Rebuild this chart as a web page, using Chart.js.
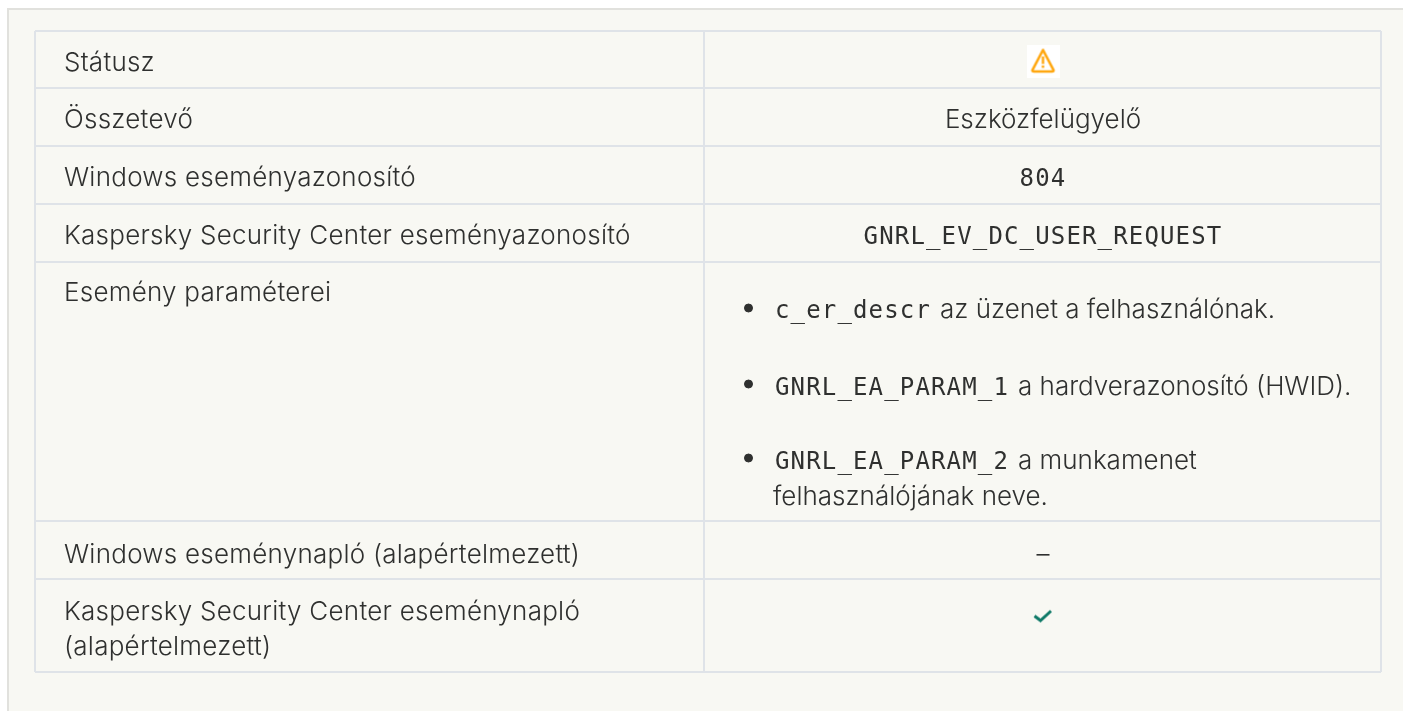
<!DOCTYPE html>
<html lang="hu">
<head>
<meta charset="utf-8">
<title>Eszközfelügyelő</title>
<script src="https://cdn.jsdelivr.net/npm/chart.js@4"></script>
<style>
  html, body { margin: 0; padding: 0; background: #fff; overflow: hidden; }
  #panel {
    position: absolute; left: 7px; top: 8px; width: 1396px; height: 703px;
    box-sizing: border-box; background: #f8f8f3;
    border-left: 2px solid #e1e1dd; border-top: 2px solid #e1e1dd;
  }
  #table-chart { position: absolute; left: 0; top: 0; }
</style>
</head>
<body>
<div id="panel"></div>
<canvas id="table-chart" width="1403" height="711"></canvas>
<script>
// table content
const rowLabels = [
  ["Státusz"],
  ["Összetevő"],
  ["Windows eseményazonosító"],
  ["Kaspersky Security Center eseményazonosító"],
  ["Esemény paraméterei"],
  ["Windows eseménynapló (alapértelmezett)"],
  ["Kaspersky Security Center eseménynapló", "(alapértelmezett)"],
];
const rowValues = ["", "Eszközfelügyelő", "804", "GNRL_EV_DC_USER_REQUEST", "", "–", ""];
const valueIsCode = [false, false, true, true, false, false, false];
const paramCodes = ["c_er_descr", "GNRL_EA_PARAM_1", "GNRL_EA_PARAM_2"];
const paramTexts = ["az üzenet a felhasználónak.", "a hardverazonosító (HWID).", "a munkamenet"];
const paramWrapped = "felhasználójának neve.";
const warningRows = [0];
const checkRows = [6];

// layout: scale values are page pixels
const rowEdges = [31, 88, 146, 204, 262, 521, 579, 672];
const colEdges = [35, 704, 1381];
const labelBaselines = [[71], [128], [186], [244], [301], [563], [620, 655]];
const valueBaselines = [0, 128, 186, 244, 0, 563, 0];
const paramBaselines = [318, 395, 469];
const bulletYs = [308, 384, 458];
const wrappedBaseline = 505;

const sansFont = "350 26px Inter";
const monoFont = "24px 'DejaVu Sans Mono'";
const inkColor = "#2f302f";
const lineColor = "#dfe3e8";

const colCentre = (colEdges[1] + colEdges[2]) / 2 + 0.5;
const rowCentre = (r) => (rowEdges[r] + rowEdges[r + 1]) / 2;

function warningIcon() {
  const c = document.createElement("canvas");
  c.width = 33;
  c.height = 33;
  const g = c.getContext("2d");
  g.fillStyle = "#fff";
  g.fillRect(0, 0, 33, 33);
  g.strokeStyle = "#ffa70f";
  g.fillStyle = "#ffa70f";
  g.lineWidth = 2.6;
  g.lineJoin = "round";
  g.beginPath();
  g.moveTo(16.5, 5.5);
  g.lineTo(27, 25.5);
  g.quadraticCurveTo(27.5, 27, 25.5, 27);
  g.lineTo(7.5, 27);
  g.quadraticCurveTo(5.5, 27, 6, 25.5);
  g.closePath();
  g.stroke();
  g.fillRect(15.3, 12, 2.4, 7.5);
  g.fillRect(15.3, 21, 2.4, 2.4);
  return c;
}

function checkIcon() {
  const c = document.createElement("canvas");
  c.width = 24;
  c.height = 20;
  const g = c.getContext("2d");
  g.strokeStyle = "#107a68";
  g.lineWidth = 3;
  g.beginPath();
  g.moveTo(3.5, 10.5);
  g.lineTo(9.5, 15);
  g.lineTo(20, 5.5);
  g.stroke();
  return c;
}

function setFont(ctx, code, spacing) {
  ctx.font = code ? monoFont : sansFont;
  ctx.letterSpacing = code ? "1.15px" : (spacing || "0px");
}

const tableText = {
  id: "tableText",
  afterDatasetsDraw(chart) {
    const { ctx, scales } = chart;
    const px = (v) => scales.x.getPixelForValue(v);
    const py = (v) => scales.y.getPixelForValue(v);
    ctx.save();
    ctx.fillStyle = inkColor;
    ctx.textBaseline = "alphabetic";

    ctx.textAlign = "left";
    setFont(ctx, false, "0.25px");
    rowLabels.forEach((lines, r) => {
      lines.forEach((line, i) => ctx.fillText(line, px(64), py(labelBaselines[r][i])));
    });

    ctx.textAlign = "center";
    rowValues.forEach((value, r) => {
      if (!value) return;
      setFont(ctx, valueIsCode[r]);
      ctx.fillText(value, px(colCentre), py(valueBaselines[r]));
    });

    ctx.textAlign = "left";
    paramCodes.forEach((code, i) => {
      setFont(ctx, true);
      ctx.fillText(code, px(775), py(paramBaselines[i]));
      const w = ctx.measureText(code).width;
      setFont(ctx, false);
      ctx.fillText(paramTexts[i], px(775) + w + 9, py(paramBaselines[i]));
    });
    setFont(ctx, false);
    ctx.fillText(paramWrapped, px(773), py(wrappedBaseline));
    ctx.restore();
  },
};

const gridAxis = (edges) => ({
  type: "linear",
  min: edges[0],
  max: edges[edges.length - 1],
  border: { display: false },
  grid: { color: lineColor, lineWidth: 2, drawTicks: false },
  ticks: { display: false, autoSkip: false },
  afterBuildTicks(scale) {
    scale.ticks = edges.map((value) => ({ value }));
  },
});

new Chart("table-chart", {
  type: "scatter",
  data: {
    datasets: [
      {
        label: "warning",
        data: warningRows.map((r) => ({ x: colCentre, y: 61 })),
        pointStyle: warningIcon(),
      },
      {
        label: "check",
        data: checkRows.map((r) => ({ x: colCentre, y: rowCentre(r) - 10 })),
        pointStyle: checkIcon(),
      },
      {
        label: "bullets",
        data: bulletYs.map((y) => ({ x: 748.5, y })),
        pointStyle: "circle",
        pointRadius: 4,
        backgroundColor: inkColor,
        borderColor: inkColor,
      },
    ],
  },
  options: {
    responsive: false,
    animation: false,
    events: [],
    layout: { padding: { left: 35, top: 31, right: 22, bottom: 39 } },
    plugins: { legend: { display: false }, tooltip: { enabled: false } },
    scales: {
      x: gridAxis(colEdges),
      y: { ...gridAxis(rowEdges), reverse: true },
    },
  },
  plugins: [tableText],
});
</script>
</body>
</html>
